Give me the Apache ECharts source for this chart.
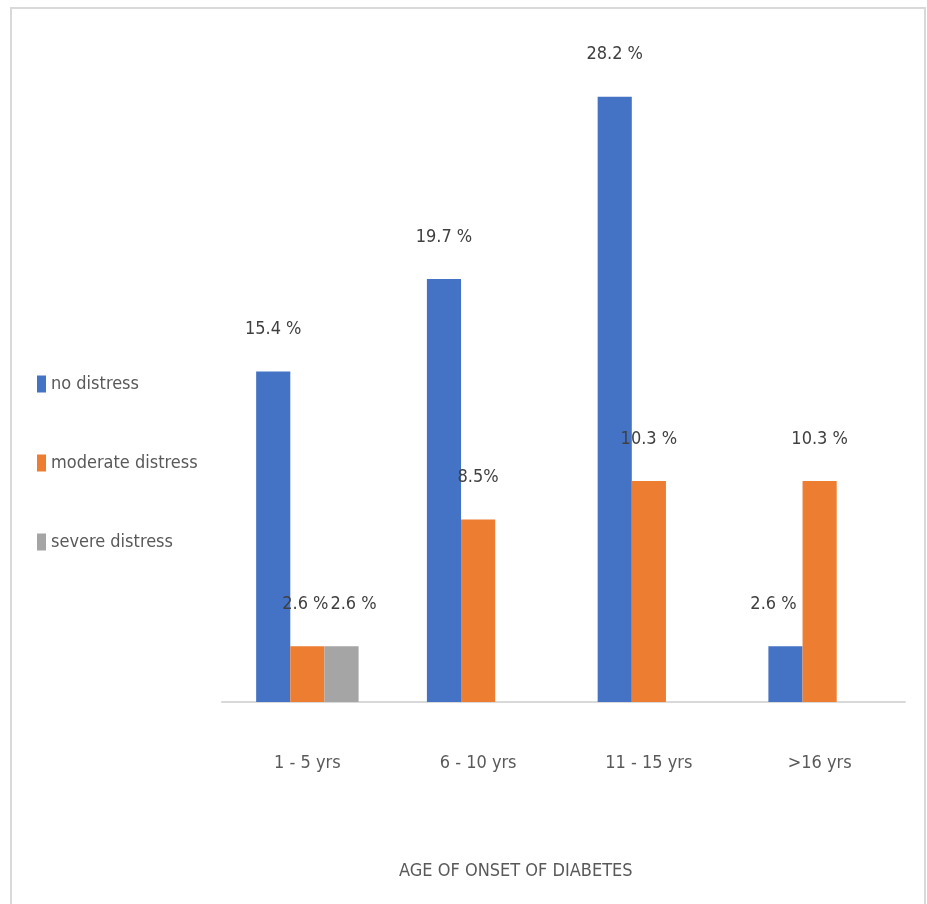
<!DOCTYPE html>
<html>
<head>
<meta charset="utf-8">
<script src="https://cdn.jsdelivr.net/npm/echarts@6/dist/echarts.min.js"></script>
<style>
html,body{margin:0;padding:0;background:#fff;}
#chart{width:927px;height:904px;}
</style>
</head>
<body>
<div id="chart"></div>
<script>
var categories = ['1 - 5 yrs', '6 - 10 yrs', '11 - 15 yrs', '>16 yrs'];
var seriesNames = ['no distress', 'moderate distress', 'severe distress'];
var noDistress = [15.4, 19.7, 28.2, 2.6];
var moderateDistress = [2.6, 8.5, 10.3, 10.3];
var severeDistress = [2.6, null, null, null];
var noDistressLabels = ['15.4 %', '19.7 %', '28.2 %', '2.6 %'];
var moderateDistressLabels = ['2.6 %', '8.5%', '10.3 %', '10.3 %'];
var severeDistressLabels = ['2.6 %', '', '', ''];
var axisTitle = 'AGE OF ONSET OF DIABETES';

var FONT = "'Liberation Sans Narrow', 'DejaVu Sans Condensed', 'Roboto Condensed', sans-serif";
var colors = ['#4472C4', '#ED7D31', '#A5A5A5'];

function mkSeries(name, data, labels, color, offsets) {
  return {
    name: name,
    type: 'bar',
    data: data.map(function (v, i) {
      var item = { value: v };
      if (offsets && offsets[i]) item.label = { offset: offsets[i] };
      return item;
    }),
    barGap: 0,
    barCategoryGap: '40%',
    itemStyle: { color: color },
    label: {
      show: true,
      position: 'top',
      distance: 33,
      fontFamily: FONT,
      fontSize: 18,
      color: '#404040',
      formatter: function (p) { return labels[p.dataIndex]; }
    }
  };
}

var chart = echarts.init(document.getElementById('chart'));
chart.setOption({
  animation: false,
  backgroundColor: '#fff',
  textStyle: { fontFamily: FONT },
  graphic: [{
    type: 'rect',
    shape: { x: 11, y: 8, width: 914, height: 930 },
    style: { fill: 'none', stroke: '#d9d9d9', lineWidth: 2 },
    silent: true
  }],
  title: {
    text: axisTitle,
    left: 394,
    top: 857,
    textStyle: { fontFamily: FONT, fontSize: 18, fontWeight: 'normal', color: '#595959' }
  },
  legend: {
    orient: 'vertical',
    left: 32,
    top: 370,
    itemGap: 61,
    itemWidth: 9,
    itemHeight: 17,
    icon: 'rect',
    data: seriesNames,
    textStyle: { fontFamily: FONT, fontSize: 18, color: '#595959' }
  },
  grid: { left: 222, right: 22, top: 58, bottom: 202, containLabel: false },
  xAxis: {
    type: 'category',
    data: categories,
    axisLine: { lineStyle: { color: '#d9d9d9', width: 2 } },
    axisTick: { show: false },
    axisLabel: { margin: 52, fontFamily: FONT, fontSize: 18, color: '#595959' }
  },
  yAxis: {
    type: 'value',
    min: 0,
    max: 30,
    show: false,
    splitLine: { show: false }
  },
  series: [
    mkSeries(seriesNames[0], noDistress, noDistressLabels, colors[0], [null, null, null, [-12, 0]]),
    mkSeries(seriesNames[1], moderateDistress, moderateDistressLabels, colors[1], [[-2, 0], null, null, null]),
    mkSeries(seriesNames[2], severeDistress, severeDistressLabels, colors[2], [[12, 0], null, null, null])
  ]
});
</script>
</body>
</html>
